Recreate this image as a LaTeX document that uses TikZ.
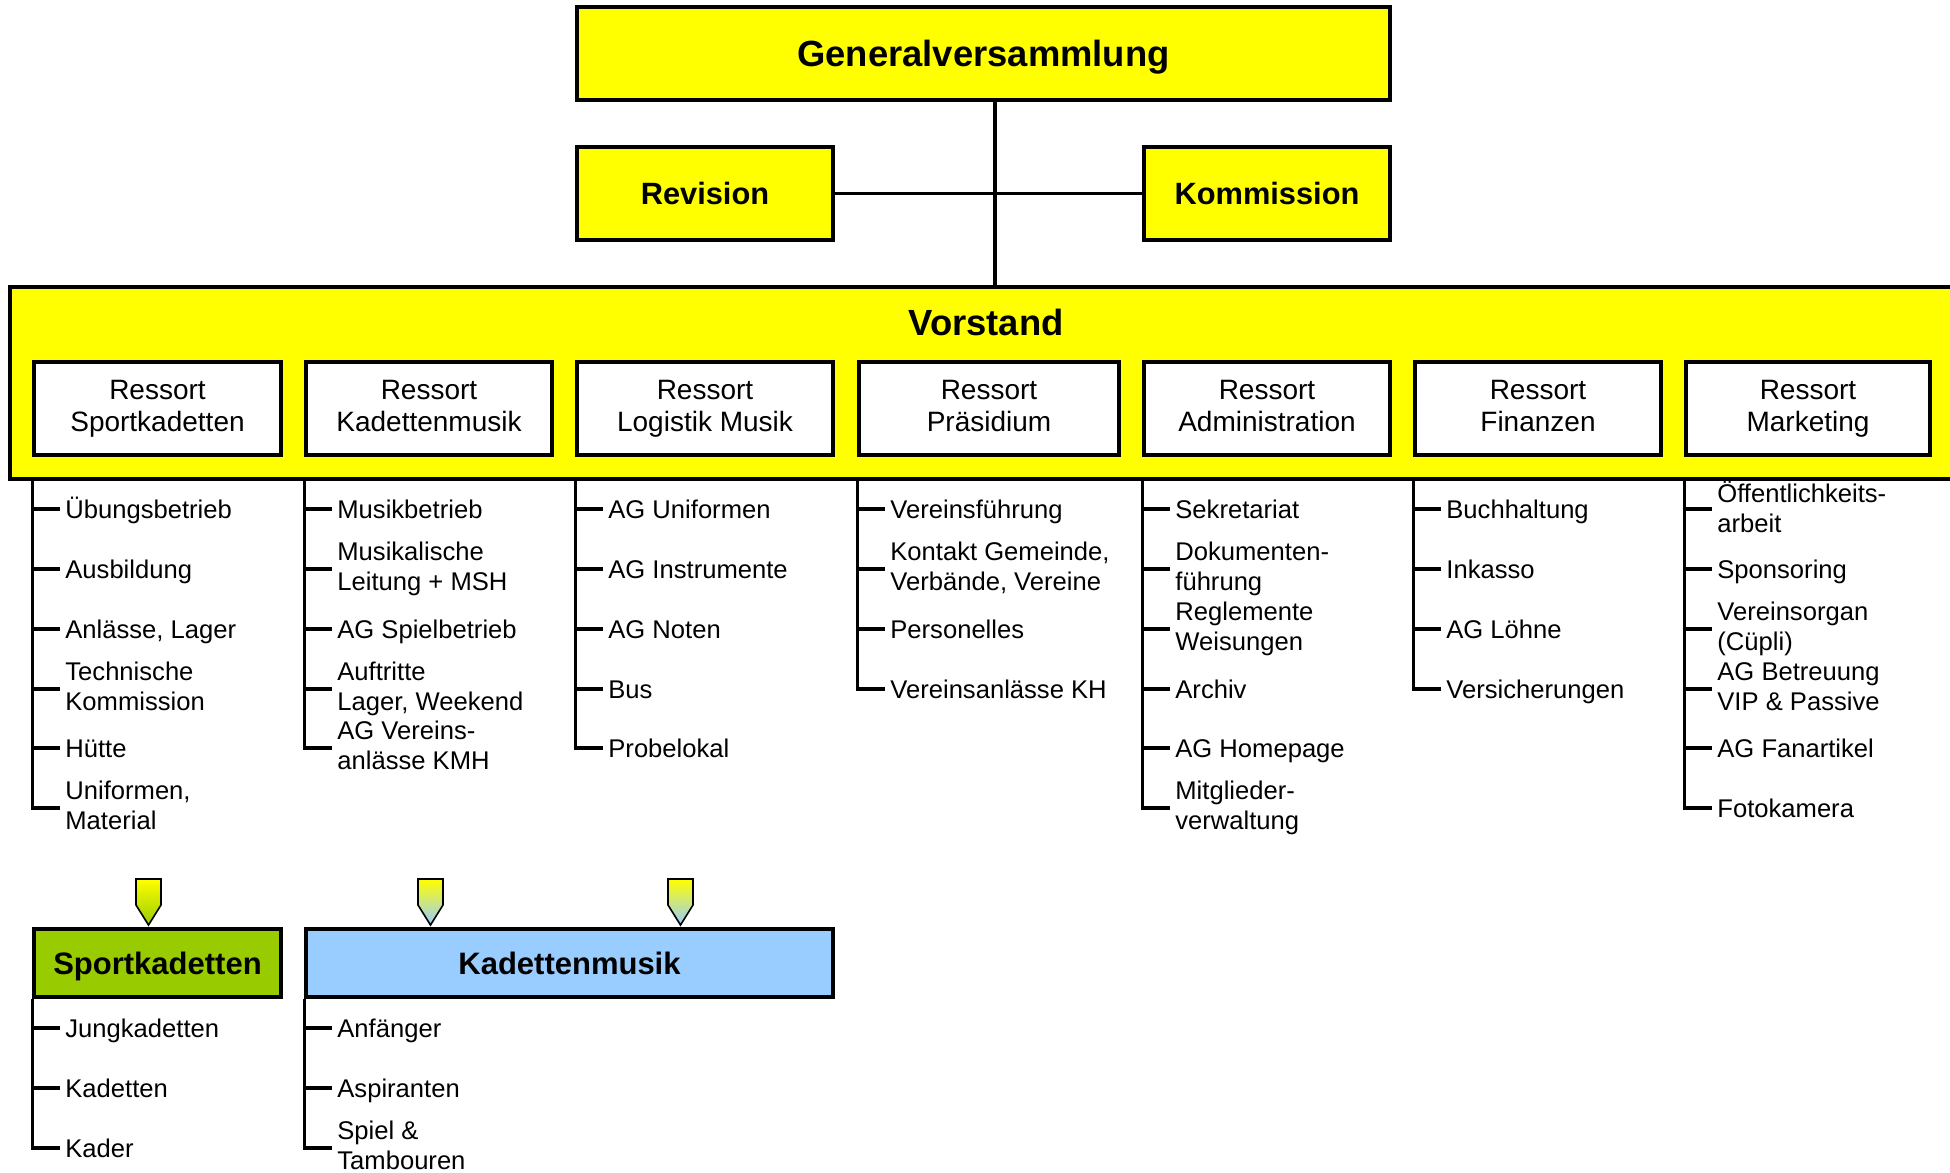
\documentclass[tikz,border=0pt]{standalone}
\usepackage{fontspec}
\setmainfont{Liberation Sans}
\usetikzlibrary{fit,shadings}
\definecolor{yel}{RGB}{255,255,0}
\definecolor{grn}{RGB}{153,204,0}
\definecolor{lblue}{RGB}{153,204,255}
\newcommand{\istrut}{\rule[-2.7pt]{0pt}{14.5pt}}
\newcommand{\rstrut}{\rule[-3pt]{0pt}{15.7pt}}
\begin{document}
\begin{tikzpicture}[x=0.5pt,y=-0.5pt,
  box/.style={draw=black, line width=1.6pt, inner sep=0pt},
  ybox/.style={box, fill=yel},
  rbox/.style={box, fill=white},
  rtxt/.style={inner sep=0pt, align=center, font=\fontsize{14}{16}\selectfont, execute at begin node=\rstrut, execute at end node=\rstrut},
  big/.style={inner sep=0pt, font=\fontsize{18.2}{22}\selectfont\bfseries, text height=16.9pt, text depth=3.8pt},
  mid/.style={inner sep=0pt, font=\fontsize{15.4}{18}\selectfont\bfseries, text height=13.7pt, text depth=3.2pt},
  bot/.style={inner sep=0pt, font=\fontsize{15.5}{18}\selectfont\bfseries, text height=14.9pt, text depth=3.2pt},
  item/.style={anchor=west, inner xsep=2.5pt, inner ysep=0pt, align=left, font=\fontsize{12.8}{15}\selectfont, execute at begin node=\istrut, execute at end node=\istrut},
  tree/.style={line width=1.6pt},
  marker/.style={draw=black, line width=0.8pt}
]
\useasboundingbox (0,0) rectangle (1950,1173);
\clip (0,0) rectangle (1950,1173);

% top
\node[ybox, fit={(577,7) (1390,100)}] (gv) {};
\node[big] (gvt) at (gv.center) {Generalversammlung};
\node[ybox, fit={(577,147) (833,240)}] (rev) {};
\node[mid] (revt) at (rev.center) {Revision};
\node[ybox, fit={(1144,147) (1390,240)}] (kom) {};
\node[mid] (komt) at (kom.center) {Kommission};
\node[ybox, fit={(10,287) (1980,479)}] (vor) {};
\node[big] (vortxt) at (986,322.5) {Vorstand};
\coordinate (vx) at (995,0);
\draw[tree] (gv.south -| vx) -- (vor.north -| vx);
\draw[tree] (rev.east) -- (kom.west);

% ressort boxes
\node[rbox, fit={(34,362) (281,455)}] (r1) {};
\node[rtxt] (r1t) at (r1.center) {Ressort\\Sportkadetten};
\node[rbox, fit={(306,362) (552,455)}] (r2) {};
\node[rtxt] (r2t) at (r2.center) {Ressort\\Kadettenmusik};
\node[rbox, fit={(577,362) (833,455)}] (r3) {};
\node[rtxt] (r3t) at (r3.center) {Ressort\\Logistik Musik};
\node[rbox, fit={(859,362) (1119,455)}] (r4) {};
\node[rtxt] (r4t) at (r4.center) {Ressort\\Präsidium};
\node[rbox, fit={(1144,362) (1390,455)}] (r5) {};
\node[rtxt] (r5t) at (r5.center) {Ressort\\Administration};
\node[rbox, fit={(1415,362) (1661,455)}] (r6) {};
\node[rtxt] (r6t) at (r6.center) {Ressort\\Finanzen};
\node[rbox, fit={(1686,362) (1930,455)}] (r7) {};
\node[rtxt] (r7t) at (r7.center) {Ressort\\Marketing};

% column 1
\node[item] (a1) at (60,509) {Übungsbetrieb};
\node[item] (a2) at (60,569) {Ausbildung};
\node[item] (a3) at (60,629) {Anlässe, Lager};
\node[item] (a4) at (60,689) {Technische\\Kommission};
\node[item] (a5) at (60,748) {Hütte};
\node[item] (a6) at (60,808) {Uniformen,\\Material};
\draw[tree] (r1.west |- vor.south) -- (r1.west |- a6.west) -- (a6.west);
\foreach \n in {a1,a2,a3,a4,a5} \draw[tree] (r1.west |- \n.west) -- (\n.west);

% column 2
\node[item] (b1) at (332,509) {Musikbetrieb};
\node[item] (b2) at (332,569) {Musikalische\\Leitung + MSH};
\node[item] (b3) at (332,629) {AG Spielbetrieb};
\node[item] (b4) at (332,689) {Auftritte\\Lager, Weekend};
\node[item] (b5) at (332,748) {AG Vereins-\\anlässe KMH};
\draw[tree] (r2.west |- vor.south) -- (r2.west |- b5.west) -- (b5.west);
\foreach \n in {b1,b2,b3,b4} \draw[tree] (r2.west |- \n.west) -- (\n.west);

% column 3
\node[item] (c1) at (603,509) {AG Uniformen};
\node[item] (c2) at (603,569) {AG Instrumente};
\node[item] (c3) at (603,629) {AG Noten};
\node[item] (c4) at (603,689) {Bus};
\node[item] (c5) at (603,748) {Probelokal};
\draw[tree] (r3.west |- vor.south) -- (r3.west |- c5.west) -- (c5.west);
\foreach \n in {c1,c2,c3,c4} \draw[tree] (r3.west |- \n.west) -- (\n.west);

% column 4
\node[item] (d1) at (885,509) {Vereinsführung};
\node[item] (d2) at (885,569) {Kontakt Gemeinde,\\Verbände, Vereine};
\node[item] (d3) at (885,629) {Personelles};
\node[item] (d4) at (885,689) {Vereinsanlässe KH};
\draw[tree] (r4.west |- vor.south) -- (r4.west |- d4.west) -- (d4.west);
\foreach \n in {d1,d2,d3} \draw[tree] (r4.west |- \n.west) -- (\n.west);

% column 5
\node[item] (e1) at (1170,509) {Sekretariat};
\node[item] (e2) at (1170,569) {Dokumenten-\\führung};
\node[item] (e3) at (1170,629) {Reglemente\\Weisungen};
\node[item] (e4) at (1170,689) {Archiv};
\node[item] (e5) at (1170,748) {AG Homepage};
\node[item] (e6) at (1170,808) {Mitglieder-\\verwaltung};
\draw[tree] (r5.west |- vor.south) -- (r5.west |- e6.west) -- (e6.west);
\foreach \n in {e1,e2,e3,e4,e5} \draw[tree] (r5.west |- \n.west) -- (\n.west);

% column 6
\node[item] (f1) at (1441,509) {Buchhaltung};
\node[item] (f2) at (1441,569) {Inkasso};
\node[item] (f3) at (1441,629) {AG Löhne};
\node[item] (f4) at (1441,689) {Versicherungen};
\draw[tree] (r6.west |- vor.south) -- (r6.west |- f4.west) -- (f4.west);
\foreach \n in {f1,f2,f3} \draw[tree] (r6.west |- \n.west) -- (\n.west);

% column 7
\node[item] (g1) at (1712,509) {Öffentlichkeits-\\arbeit};
\node[item] (g2) at (1712,569) {Sponsoring};
\node[item] (g3) at (1712,629) {Vereinsorgan\\(Cüpli)};
\node[item] (g4) at (1712,689) {AG Betreuung\\VIP \& Passive};
\node[item] (g5) at (1712,748) {AG Fanartikel};
\node[item] (g6) at (1712,808) {Fotokamera};
\draw[tree] (r7.west |- vor.south) -- (r7.west |- g6.west) -- (g6.west);
\foreach \n in {g1,g2,g3,g4,g5} \draw[tree] (r7.west |- \n.west) -- (\n.west);

% markers
\shade[marker, top color=yel, bottom color=grn] (136,879) -- (161,879) -- (161,905) -- (148.5,925) -- (136,905) -- cycle;
\shade[marker, top color=yel, bottom color=lblue] (418,879) -- (443,879) -- (443,905) -- (430.5,925) -- (418,905) -- cycle;
\shade[marker, top color=yel, bottom color=lblue] (668,879) -- (693,879) -- (693,905) -- (680.5,925) -- (668,905) -- cycle;

% bottom boxes
\node[box, fill=grn, fit={(34,929) (281,997)}] (sk) {};
\node[bot] (skt) at (sk.center) {Sportkadetten};
\node[box, fill=lblue, fit={(306,929) (833,997)}] (km) {};
\node[bot] (kmt) at (km.center) {Kadettenmusik};

\node[item] (h1) at (60,1028) {Jungkadetten};
\node[item] (h2) at (60,1088) {Kadetten};
\node[item] (h3) at (60,1148) {Kader};
\draw[tree] (sk.south west) -- (sk.west |- h3.west) -- (h3.west);
\foreach \n in {h1,h2} \draw[tree] (sk.west |- \n.west) -- (\n.west);

\node[item] (k1) at (332,1028) {Anfänger};
\node[item] (k2) at (332,1088) {Aspiranten};
\node[item] (k3) at (332,1148) {Spiel \&\\Tambouren};
\draw[tree] (km.south west) -- (km.west |- k3.west) -- (k3.west);
\foreach \n in {k1,k2} \draw[tree] (km.west |- \n.west) -- (\n.west);
\end{tikzpicture}
\end{document}
